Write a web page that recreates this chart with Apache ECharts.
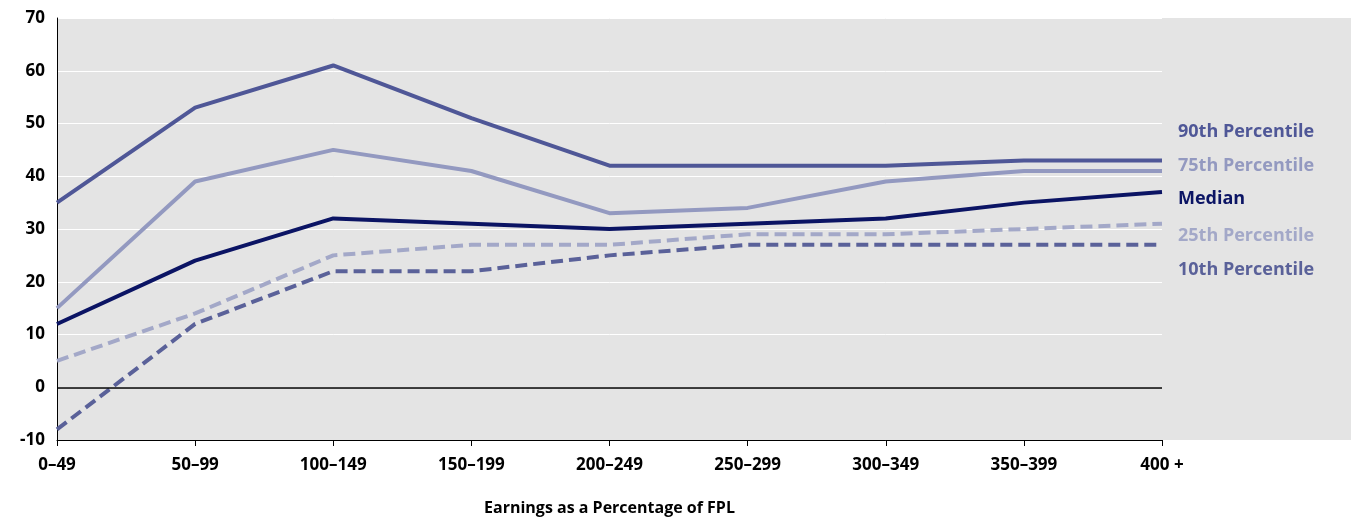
<!DOCTYPE html>
<html>
<head>
<meta charset="utf-8">
<script src="https://cdn.jsdelivr.net/npm/echarts@6/dist/echarts.min.js"></script>
<style>html,body{margin:0;padding:0;background:#fff}#chart{width:1351px;height:523px}</style>
</head>
<body>
<div id="chart"></div>
<script>
const categories = ['0–49', '50–99', '100–149', '150–199', '200–249', '250–299', '300–349', '350–399', '400 +']
const p90 = [35, 53, 61, 51, 42, 42, 42, 43, 43]
const p75 = [15, 39, 45, 41, 33, 34, 39, 41, 41]
const median = [12, 24, 32, 31, 30, 31, 32, 35, 37]
const p25 = [5, 14, 25, 27, 27, 29, 29, 30, 31]
const p10 = [-8, 12, 22, 22, 25, 27, 27, 27, 27]

const font = 'Open Sans'
const chart = echarts.init(document.getElementById('chart'))

function line (name, data, color, dashed) {
  return {
    name: name,
    type: 'line',
    data: data,
    symbol: 'none',
    z: 3,
    lineStyle: { color: color, width: 4, type: dashed ? [12, 6] : 'solid' }
  }
}

const labels = [
  ['90th Percentile', '#4f5797', 131],
  ['75th Percentile', '#9399c0', 165],
  ['Median', '#0b1464', 198],
  ['25th Percentile', '#a3a8c8', 235],
  ['10th Percentile', '#5a6199', 269]
]

chart.setOption({
  animation: false,
  textStyle: { fontFamily: font },
  graphic: [
    { type: 'rect', z: -10, shape: { x: 57, y: 18, width: 1294, height: 422 }, style: { fill: '#e4e4e4' } }
  ].concat(labels.map(l => ({
    type: 'text', left: 1178, top: l[2] - 8,
    style: { text: l[0], fill: l[1], font: 'bold 18px "Open Sans"' }
  }))),
  grid: { left: 57, right: 189, top: 18, bottom: 83 },
  xAxis: {
    type: 'category',
    data: categories,
    boundaryGap: false,
    axisLine: { onZero: false, lineStyle: { color: '#000', width: 1 } },
    axisTick: { show: true, length: 6, lineStyle: { color: '#000' } },
    axisLabel: { color: '#000', fontWeight: 'bold', fontSize: 17, margin: 17 },
    name: 'Earnings as a Percentage of FPL',
    nameLocation: 'middle',
    nameGap: 60,
    nameTextStyle: { color: '#000', fontWeight: 'bold', fontSize: 16 }
  },
  yAxis: {
    type: 'value',
    min: -10,
    max: 70,
    interval: 10,
    axisLine: { show: true, lineStyle: { color: '#000', width: 1 } },
    axisTick: { show: false },
    axisLabel: { color: '#000', fontWeight: 'bold', fontSize: 17, margin: 12 },
    splitLine: { lineStyle: { color: '#fff', width: 1 } }
  },
  series: [
    line('90th Percentile', p90, '#4f5797'),
    line('75th Percentile', p75, '#9399c0'),
    line('Median', median, '#0b1464'),
    line('25th Percentile', p25, '#a3a8c8', true),
    Object.assign(line('10th Percentile', p10, '#5a6199', true), {
      markLine: {
        silent: true, symbol: 'none', label: { show: false },
        lineStyle: { color: '#000', width: 1.5, type: 'solid' },
        data: [{ yAxis: 0 }]
      }
    })
  ]
})
</script>
</body>
</html>
